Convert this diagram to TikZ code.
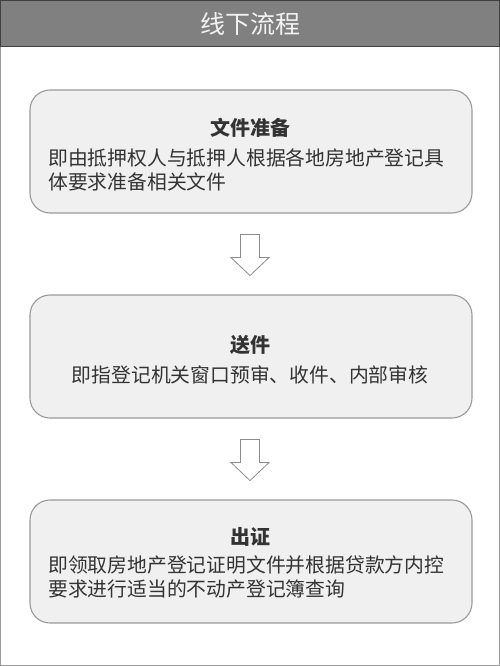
\documentclass[tikz,border=0pt]{standalone}
\usepackage{fontspec}
\setmainfont{Noto Sans CJK SC}
\usetikzlibrary{calc}
\definecolor{boxfill}{HTML}{F0F0F0}
\definecolor{boxline}{HTML}{9A9A9A}
\definecolor{headfill}{HTML}{808080}
\definecolor{txt}{HTML}{333333}
\definecolor{arr}{HTML}{8C8C8C}
\tikzset{
  stepbox/.style={draw=boxline, line width=1.1pt, fill=boxfill, rounded corners=20pt,
    minimum width=442pt, minimum height=123pt, inner sep=0pt},
  boxtitle/.style={font=\fontsize{20}{24}\selectfont\bfseries, text=txt, inner sep=0pt},
  boxbody/.style={font=\fontsize{19.8}{23.5}\selectfont, text=txt, inner sep=0pt, align=left},
  hollowarrow/.style={draw=arr, line width=0.8pt, fill=white, line join=miter}
}
\begin{document}
\begin{tikzpicture}[x=1pt,y=-1pt]
\useasboundingbox (0,0) rectangle (500,666);
\fill[white] (0,0) rectangle (500,666);
\draw[boxline, line width=1pt] (0.5,0.5) rectangle (499.5,665.5);
\draw[fill=headfill, draw=black!75, line width=0.9pt] (0.5,0.5) rectangle (499.5,46);
\node[text=white!95!black, font=\fontsize{25}{28}\selectfont, inner sep=0pt] (head) at (250,24) {线下流程};

\node[stepbox] (b1) at (251,151.5) {};
\node[stepbox] (b2) at (251,356.5) {};
\node[stepbox] (b3) at (251,561.5) {};

\node[boxtitle] (t1) at (250,128) {文件准备};
\node[boxbody, anchor=north west] (d1) at (48,149) {即由抵押权人与抵押人根据各地房地产登记具\\体要求准备相关文件};

\node[boxtitle] (t2) at (250,345) {送件};
\node[boxbody, anchor=center] (d2) at (250,375) {即指登记机关窗口预审、收件、内部审核};

\node[boxtitle] (t3) at (250,537) {出证};
\node[boxbody, anchor=north west] (d3) at (48,556) {即领取房地产登记证明文件并根据贷款方内控\\要求进行适当的不动产登记簿查询};

\foreach \a/\b in {b1/b2, b2/b3}{
  \coordinate (s) at ($(\a.south)+(-1,21)$);
  \draw[hollowarrow] ($(s)+(-9.5,0)$) -- ($(s)+(9.5,0)$) -- ($(s)+(9.5,23)$) -- ($(s)+(19,23)$)
     -- ($(s)+(0,41)$) -- ($(s)+(-19,23)$) -- ($(s)+(-9.5,23)$) -- cycle;
}
\end{tikzpicture}
\end{document}
